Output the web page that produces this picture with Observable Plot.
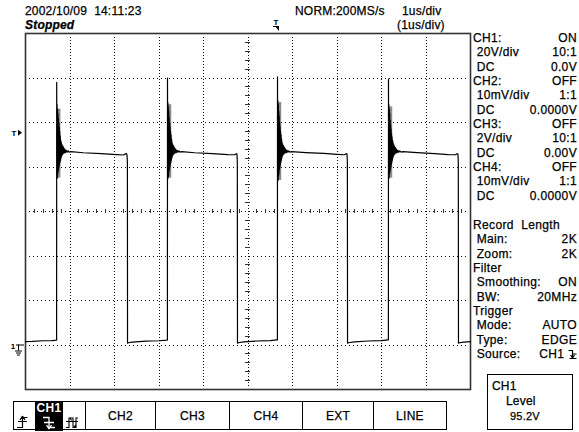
<!DOCTYPE html>
<html>
<head>
<meta charset="utf-8">
<script src="https://cdn.jsdelivr.net/npm/d3@7"></script>
<script src="https://cdn.jsdelivr.net/npm/@observablehq/plot@0.6"></script>
<style>
  html, body { margin: 0; padding: 0; background: #fff; }
  #scope { position: relative; width: 579px; height: 432px; overflow: hidden;
           font-family: "Liberation Sans", Arial, sans-serif; font-size: 12px; color: #000; }
  #scope > svg { position: absolute; left: 0; top: 0; }
  .txt { position: absolute; white-space: pre; line-height: 14px; letter-spacing: 0.2px; -webkit-text-stroke: 0.25px #000; }
  .row { display: flex; justify-content: space-between; height: 14.35px; line-height: 14.35px; white-space: pre; letter-spacing: 0.35px; -webkit-text-stroke: 0.25px #000; }
  .btn { position: absolute; top: 401px; height: 29px; box-sizing: border-box; border: 1px solid #000;
         display: flex; align-items: center; justify-content: center; font-size: 12px; letter-spacing: 0.3px; -webkit-text-stroke: 0.25px #000; }
  #level { position: absolute; left: 487px; top: 374px; width: 86px; height: 56px; box-sizing: border-box; border: 1px solid #000; }
</style>
</head>
<body>
<div id="scope"></div>
<script>
// Acquisition settings (CH1, 20 V/div, 1 us/div)
const timeDomain = [0, 10];      // us, 10 divisions
const voltDomain = [-20, 140];   // V, 8 divisions of 20 V, ground one division above the bottom
const divTimes = [1, 2, 3, 4, 5, 6, 7, 8, 9];
const divVolts = [0, 20, 40, 60, 80, 100, 120];
const centerTime = 5;
const centerVolts = 60;
const groundVolts = 0;
const triggerLevel = 95.2;
const triggerTime = 5.64;

// CH1 trace: [time us, volts]
const leadIn = [[0.00,1.5],[0.15,1.6],[0.40,1.9],[0.60,2.0],[0.69,2.2],[0.699,2.3]];
const pulse1 = [[0.701,118],[0.705,76],[0.710,108],[0.715,75],[0.720,106],[0.725,77],[0.730,104],[0.735,78],[0.740,102],[0.745,79],[0.750,100],[0.755,80],[0.760,98],[0.765,81],[0.770,96],[0.776,82],[0.782,94],[0.788,83],[0.794,92],[0.800,84],[0.807,91],[0.814,85],[0.821,90],[0.829,85.5],[0.837,89.5],[0.846,86],[0.856,88.8],[0.867,86.2],[0.880,88.2],[0.895,86.4],[0.912,87.6],[0.932,86.6],[0.955,87.3],[0.98,86.7],[1.02,86.9],[1.30,86.4],[1.70,86.0],[2.05,85.6],[2.20,85.4],[2.25,85.9],[2.27,86.0],[2.282,85.2],[2.290,82],[2.293,0.8],[2.31,1.0],[2.40,1.3],[2.70,1.7],[3.00,1.9],[3.17,2.2],[3.189,2.3]];
const pulse2 = [[3.191,120],[3.195,77],[3.200,109],[3.205,75],[3.210,107],[3.215,76],[3.220,105],[3.225,78],[3.230,102],[3.235,79],[3.240,100],[3.245,80],[3.250,98],[3.255,81],[3.260,96],[3.266,82],[3.272,94.5],[3.278,83],[3.284,92.5],[3.290,84],[3.297,91],[3.304,85],[3.311,90],[3.319,85.5],[3.327,89.5],[3.336,86],[3.346,88.8],[3.357,86.2],[3.370,88.2],[3.385,86.4],[3.402,87.6],[3.422,86.6],[3.445,87.3],[3.47,86.7],[3.51,86.9],[3.80,86.4],[4.20,86.0],[4.55,85.6],[4.70,85.5],[4.735,86.0],[4.752,85.8],[4.760,82],[4.764,0.8],[4.78,1.0],[4.90,1.4],[5.20,1.8],[5.50,2.0],[5.64,2.3],[5.661,2.3]];
const pulse3 = [[5.663,120.5],[5.667,75],[5.672,110],[5.677,74],[5.682,108],[5.687,76],[5.692,105],[5.697,77],[5.702,103],[5.707,79],[5.712,100],[5.717,80],[5.722,98],[5.727,81],[5.732,96],[5.738,82],[5.744,94.5],[5.750,83],[5.756,92.5],[5.762,84],[5.769,91],[5.776,85],[5.783,90],[5.791,85.5],[5.799,89.5],[5.808,86],[5.818,88.8],[5.829,86.2],[5.842,88.2],[5.857,86.4],[5.874,87.6],[5.894,86.6],[5.917,87.3],[5.94,86.7],[5.98,86.9],[6.30,86.5],[6.70,86.1],[7.00,85.7],[7.17,85.5],[7.205,86.0],[7.225,85.8],[7.233,82],[7.237,0.8],[7.25,1.0],[7.40,1.4],[7.70,1.8],[8.00,2.0],[8.14,2.3],[8.155,2.3]];
const pulse4 = [[8.157,119.5],[8.161,76],[8.166,108],[8.171,75],[8.176,106],[8.181,77],[8.186,104],[8.191,78],[8.196,101],[8.201,79],[8.206,99],[8.211,80],[8.216,97],[8.221,81],[8.226,95],[8.232,82],[8.238,93.5],[8.244,83],[8.250,92],[8.256,84],[8.263,91],[8.270,85],[8.277,90],[8.285,85.5],[8.293,89.3],[8.302,86],[8.312,88.7],[8.323,86.2],[8.336,88.1],[8.351,86.4],[8.368,87.5],[8.388,86.6],[8.411,87.2],[8.44,86.7],[8.48,86.9],[8.80,86.5],[9.20,86.0],[9.50,85.6],[9.66,85.5],[9.70,86.0],[9.718,85.8],[9.726,82],[9.730,0.8],[9.75,1.0],[9.85,1.3],[10.0,1.5]];

// Persistence glow left by the ringing after each rising edge
const glowTime = [0.740, 3.230, 5.702, 8.196];
const glowLow = [75, 75, 74, 75];
const glowHigh = [106, 108, 109, 107];

// Side panel and soft keys
const channelRows = [
  ["CH1:", "ON"], [" 20V/div", "10:1"], [" DC", "0.0V"],
  ["CH2:", "OFF"], [" 10mV/div", "1:1"], [" DC", "0.0000V"],
  ["CH3:", "OFF"], [" 2V/div", "10:1"], [" DC", "0.00V"],
  ["CH4:", "OFF"], [" 10mV/div", "1:1"], [" DC", "0.0000V"]
];
const acquireRows = [
  ["Record  Length", ""], [" Main:", "2K"], [" Zoom:", "2K"],
  ["Filter", ""], [" Smoothing:", "ON"], [" BW:", "20MHz"],
  ["Trigger", ""], [" Mode:", "AUTO"], [" Type:", "EDGE"], [" Source:", "CH1 "]
];
const sourceKeys = ["CH1", "CH2", "CH3", "CH4", "EXT", "LINE"];
const keyEdges = [13, 85, 155, 229, 302, 373, 446];

const trace = [...leadIn, ...pulse1, ...pulse2, ...pulse3, ...pulse4].map(([t, v]) => ({t, v}));
const glow = glowTime.map((t, i) => ({t, lo: glowLow[i], hi: glowHigh[i]}));
const ticksT = d3.range(0.2, 10, 0.2).filter(t => Math.abs(t - Math.round(t)) > 1e-6);
const ticksV = d3.range(-16, 140, 4).filter(v => v % 20 !== 0);

// Dotted graticule: one-pixel dots along every division line
function graticule(index, {x, y}) {
  const [xa, xb] = timeDomain.map(x), [ya, yb] = voltDomain.map(y);
  let d = "";
  for (const t of divTimes) {
    const px = Math.round(x(t)) - 0.5;
    for (let py = Math.round(yb) + 4; py < ya - 3; py += 3) d += `M${px},${py + 0.5}h1`;
  }
  for (const v of divVolts) {
    const py = Math.round(y(v));
    for (let px = Math.round(xa) + 4; px < xb - 3; px += 4) d += `M${px},${py + 0.5}h1`;
  }
  return d3.create("svg:path").attr("d", d).attr("stroke", "#111").attr("stroke-width", 1)
    .attr("fill", "none").attr("shape-rendering", "crispEdges").node();
}

// Markers drawn at scale positions: trigger point, trigger level and ground reference
function markers(index, {x, y}) {
  const g = d3.create("svg:g").attr("fill", "#000").attr("stroke", "#000");
  const x0 = x(timeDomain[0]);
  const font = (s) => s.attr("stroke", "none").attr("font-size", 8).attr("font-weight", "bold")
    .attr("font-family", "Liberation Sans, Arial").attr("text-anchor", "middle");
  // trigger position (top)
  const tx = x(triggerTime), top = y(voltDomain[1]);
  g.append("text").attr("x", tx).attr("y", top - 8).call(font).text("T");
  g.append("path").attr("d", `M${tx - 1},${top - 7}h4v5z`).attr("stroke", "none");
  g.append("path").attr("d", `M${tx - 3},${top - 6.5}h3`).attr("stroke-width", 1);
  // trigger level (left)
  const ly = y(triggerLevel);
  g.append("text").attr("x", x0 - 11).attr("y", ly + 3).call(font).text("T");
  g.append("path").attr("d", `M${x0 - 7},${ly - 3}l4,3l-4,3z`).attr("stroke", "none");
  // ground reference (left)
  const gy = y(groundVolts);
  g.append("text").attr("x", x0 - 12).attr("y", gy + 4).call(font).text("1");
  g.append("path").attr("fill", "none").attr("stroke-width", 1)
    .attr("d", `M${x0 - 9},${gy + 0.5}H${x0 - 1}M${x0 - 6.5},${gy}V${gy + 6}M${x0 - 10},${gy + 6.5}h7M${x0 - 9},${gy + 8.5}h5M${x0 - 8},${gy + 10.5}h3`);
  return g.node();
}

const chart = Plot.plot({
  width: 579,
  height: 432,
  marginLeft: 25,
  marginRight: 109,
  marginTop: 33,
  marginBottom: 43,
  x: {domain: timeDomain, axis: null},
  y: {domain: voltDomain, axis: null},
  style: {background: "transparent", overflow: "visible"},
  marks: [
    graticule,
    Plot.ruleX(ticksT, {y1: centerVolts - 1.0, y2: centerVolts + 1.0, stroke: "#333", strokeWidth: 1, shapeRendering: "crispEdges"}),
    Plot.ruleY(ticksV, {x1: centerTime - 0.05, x2: centerTime + 0.05, stroke: "#333", strokeWidth: 1, shapeRendering: "crispEdges"}),
    Plot.frame({stroke: "#333", strokeWidth: 1.6}),
    Plot.ruleX(glow, {x: "t", y1: "lo", y2: "hi", stroke: "#8c8c8c", strokeWidth: 4}),
    Plot.line(trace, {x: "t", y: "v", stroke: "#000", strokeWidth: 1.2, curve: "linear"}),
    markers
  ]
});

const scope = document.getElementById("scope");
scope.append(chart);

function addText(text, left, top, extra = "") {
  const d = document.createElement("div");
  d.className = "txt";
  d.style.cssText += `left:${left}px;top:${top}px;${extra}`;
  d.textContent = text;
  scope.append(d);
  return d;
}

// Header
addText("2002/10/09  14:11:23", 25, 4);
addText("Stopped", 25, 18, "font-style:italic;font-weight:bold;");
addText("NORM:200MS/s", 295, 4);
addText("1us/div", 402, 4);
addText("(1us/div)", 397, 18);

// Side panel
function panel(rows, top) {
  const p = document.createElement("div");
  p.style.cssText = `position:absolute;left:473px;top:${top}px;width:104px;`;
  rows.forEach(([a, b]) => {
    const r = document.createElement("div");
    r.className = "row";
    const l = document.createElement("span"); l.textContent = a;
    const v = document.createElement("span"); v.textContent = b;
    r.append(l, v);
    if (a.trim() === "Source:") {
      v.innerHTML = 'CH1 <svg width="9" height="10" style="vertical-align:-1px"><path d="M0.5,1.5H4.5V9M1.5,9.5h7M2.5,6l2,3l2,-3M4.5,5H8.5" fill="none" stroke="#000" stroke-width="1.2"/></svg>';
    }
    p.append(r);
  });
  scope.append(p);
}
panel(channelRows, 31);
panel(acquireRows, 218);

// Trigger source soft keys
sourceKeys.forEach((k, i) => {
  const b = document.createElement("div");
  b.className = "btn";
  const left = keyEdges[i], right = keyEdges[i + 1];
  b.style.left = left + "px";
  b.style.width = (right - left + 1) + "px";
  if (i > 0) b.textContent = k;
  else {
    b.innerHTML =
      '<svg width="72" height="29" style="position:absolute;left:0;top:0">' +
      '<rect x="21" y="0" width="28" height="29" fill="#000"/>' +
      '<text x="35" y="10" text-anchor="middle" fill="#fff" font-size="12" font-family="Liberation Sans, Arial" font-weight="bold">' + k + '</text>' +
      // rising edge
      '<path d="M3,25.5H8.5V15M8.5,14l-2.5,4M8.5,14l2.5,4M8.5,15.5H13.5M4,19.5h9" fill="none" stroke="#000" stroke-width="1.2"/>' +
      // falling edge (selected)
      '<path d="M29,15.5H35V26M35,27l-2.5,-4M35,27l2.5,-4M35,25.5H41M30,20.5h10" fill="none" stroke="#fff" stroke-width="1.3"/>' +
      // both edges
      '<path d="M52,25.5H55V16H59V25.5H62V16H64M52,19.5h12M56,16l1.5,2.5M60,25.5l1.5,-2.5" fill="none" stroke="#000" stroke-width="1.1"/>' +
      '</svg>';
  }
  scope.append(b);
});

// Trigger level readout
const lv = document.createElement("div");
lv.id = "level";
scope.append(lv);
addText("CH1", 492, 379);
addText("Level", 506, 394);
addText(triggerLevel.toFixed(1) + "V", 510, 409, "font-size:11px;");
</script>
</body>
</html>
